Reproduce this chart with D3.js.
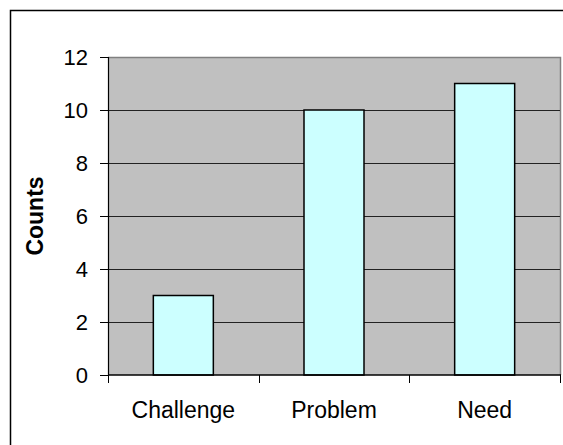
<!DOCTYPE html>
<html>
<head>
<meta charset="utf-8">
<script src="https://cdn.jsdelivr.net/npm/d3@7"></script>
<style>
  html, body { margin: 0; padding: 0; background: #fff; }
  svg { display: block; font-family: Arial, "Liberation Sans", sans-serif; }
</style>
</head>
<body>
<svg id="chart" width="563" height="445"></svg>
<script>
// Categories and their counts
const categories = ["Challenge", "Problem", "Need"];
const counts = [3, 10, 11];
const yTicks = [0, 2, 4, 6, 8, 10, 12];
const yTitle = "Counts";

const svg = d3.select("#chart");
const plot = { left: 108, top: 57, right: 560, bottom: 375 };

// Outer frame (right and bottom edges run past the canvas)
svg.append("rect")
  .attr("x", 10.5).attr("y", 10.5)
  .attr("width", 620).attr("height", 520)
  .attr("fill", "#fff").attr("stroke", "#000").attr("stroke-width", 1.5);

const x = d3.scaleBand().domain(categories)
  .range([plot.left, plot.right]).paddingInner(0).paddingOuter(0);
const y = d3.scaleLinear().domain([0, 12]).range([plot.bottom, plot.top]);

// Plot background
svg.append("rect")
  .attr("x", plot.left).attr("y", plot.top)
  .attr("width", plot.right - plot.left).attr("height", plot.bottom - plot.top)
  .attr("fill", "#C0C0C0");

// Plot border on top and right
svg.append("path")
  .attr("d", `M${plot.left},${plot.top + 0.5}H${plot.right + 0.5}V${plot.bottom}`)
  .attr("fill", "none").attr("stroke", "#808080").attr("stroke-width", 1.5);

// Horizontal gridlines
svg.append("g").selectAll("line")
  .data(yTicks.filter(d => d > 0 && d < 12))
  .join("line")
  .attr("x1", plot.left).attr("x2", plot.right)
  .attr("y1", d => Math.round(y(d)) + 0.5).attr("y2", d => Math.round(y(d)) + 0.5)
  .attr("stroke", "#222").attr("stroke-width", 1);

// Bars
const barW = 60;
svg.append("g").selectAll("rect")
  .data(categories)
  .join("rect")
  .attr("x", (d) => x(d) + x.bandwidth() / 2 - barW / 2)
  .attr("y", (d, i) => y(counts[i]))
  .attr("width", barW)
  .attr("height", (d, i) => y(0) - y(counts[i]))
  .attr("fill", "#CCFFFF")
  .attr("stroke", "#000").attr("stroke-width", 1.5);

// Y axis
const yAxis = svg.append("g")
  .attr("transform", `translate(${plot.left},0)`)
  .call(d3.axisLeft(y).tickValues(yTicks).tickSize(8).tickPadding(12));
yAxis.select(".domain").attr("stroke", "#000").attr("stroke-width", 1.2);
yAxis.selectAll(".tick line").attr("stroke", "#000");
yAxis.selectAll(".tick text")
  .attr("font-size", 22).attr("fill", "#000")
  .attr("font-family", "Arial, 'Liberation Sans', sans-serif");

// X axis: ticks on band boundaries
const xAxis = svg.append("g").attr("transform", `translate(0,${plot.bottom})`);
xAxis.append("line")
  .attr("x1", plot.left).attr("x2", plot.right + 1)
  .attr("stroke", "#000").attr("stroke-width", 1.5);
const bounds = categories.map(c => x(c)).concat([plot.right]);
xAxis.selectAll(".bt").data(bounds).join("line")
  .attr("class", "bt")
  .attr("x1", d => Math.round(d) + 0.5).attr("x2", d => Math.round(d) + 0.5)
  .attr("y1", 0).attr("y2", 8)
  .attr("stroke", "#000");
xAxis.selectAll("text").data(categories).join("text")
  .attr("x", d => x(d) + x.bandwidth() / 2)
  .attr("y", 43)
  .attr("text-anchor", "middle")
  .attr("font-size", 23)
  .attr("fill", "#000")
  .text(d => d);

// Y title
svg.append("text")
  .attr("transform", `translate(43,${(plot.top + plot.bottom) / 2}) rotate(-90)`)
  .attr("text-anchor", "middle")
  .attr("font-size", 23)
  .attr("font-weight", "bold")
  .attr("fill", "#000")
  .text(yTitle);
</script>
</body>
</html>
